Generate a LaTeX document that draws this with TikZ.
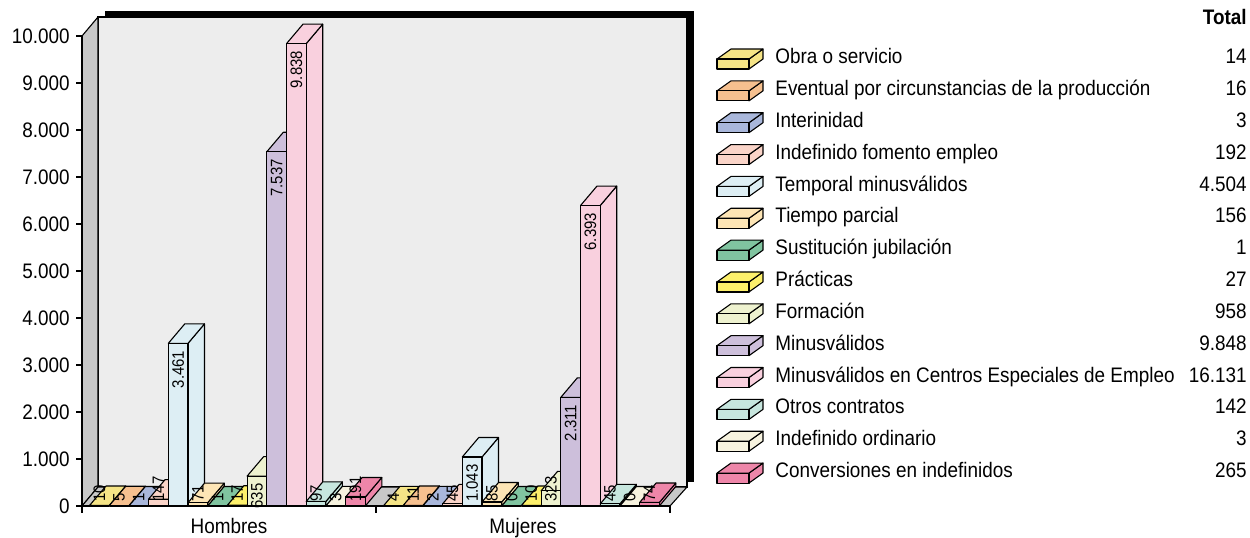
\documentclass[tikz,border=0pt]{standalone}
\usepackage{fontspec}
\setmainfont{Liberation Sans}[FakeStretch=0.9]
\definecolor{col0}{HTML}{F5E486}
\definecolor{col1}{HTML}{F6C08F}
\definecolor{col2}{HTML}{A9B7DB}
\definecolor{col3}{HTML}{FAD4C8}
\definecolor{col4}{HTML}{DDEEF4}
\definecolor{col5}{HTML}{FDE5B5}
\definecolor{col6}{HTML}{80C4A0}
\definecolor{col7}{HTML}{FDF06B}
\definecolor{col8}{HTML}{EEF2CF}
\definecolor{col9}{HTML}{CDBFDB}
\definecolor{col10}{HTML}{F9D0DE}
\definecolor{col11}{HTML}{C7E6DE}
\definecolor{col12}{HTML}{F7F3DF}
\definecolor{col13}{HTML}{EE86A9}
\definecolor{wallgray}{HTML}{C8C8C8}
\definecolor{backwall}{HTML}{EDEDED}
\tikzset{
  barface/.style={draw=black, line width=0.55pt, line join=round},
  barlab/.style={rotate=90, inner sep=0.5pt, font=\fontsize{8.3}{9}\selectfont},
  txt/.style={inner sep=0pt, text height=7.6pt, text depth=0pt, font=\fontsize{10.5}{12}\selectfont},
  axisline/.style={draw=black, line width=0.55pt},
}
\newcommand\mybar[5]{%
  \pgfmathsetmacro\xl{89.5+294*#1+19.7*#2}%
  \pgfmathsetmacro\xr{\xl+19.7}%
  \pgfmathsetmacro\xlb{\xl+16.5}%
  \pgfmathsetmacro\xrb{\xr+16.5}%
  \pgfmathsetmacro\yt{506-0.047*#3}%
  \pgfmathsetmacro\ytb{\yt-19.5}%
  \pgfmathsetmacro\xc{\xl+9.85}%
  \path[barface, fill=col#2] (\xr,506) -- (\xrb,486.5) -- (\xrb,\ytb) -- (\xr,\yt) -- cycle;
  \path[barface, fill=col#2] (\xl,\yt) -- (\xlb,\ytb) -- (\xrb,\ytb) -- (\xr,\yt) -- cycle;
  \path[barface, fill=col#2] (\xl,506) rectangle (\xr,\yt);
  \ifx t#5\relax
    \node[barlab, anchor=east] (lab#1x#2) at (\xc,{\yt+6}) {#4};
  \else
    \node[barlab, anchor=west] (lab#1x#2) at (\xc,503) {#4};
  \fi
}
\begin{document}
\begin{tikzpicture}[x=0.5pt, y=-0.5pt]
\useasboundingbox (0,0) rectangle (1250,537);
% shadow and walls
\fill[black] (105,11) rectangle (694,482);
\path[draw=black, line width=0.55pt, fill=backwall] (98,17) rectangle (687,487);
\path[draw=black, line width=0.55pt, fill=wallgray, line join=round] (82,506) -- (82,36) -- (98,17) -- (98,487) -- cycle;
\path[draw=black, line width=0.55pt, fill=wallgray, line join=round] (82,506) -- (98,487) -- (687,487) -- (670,506) -- cycle;
% y axis
\draw[axisline] (82,36) -- (82,513);
\foreach \i in {0,...,10}{
  \pgfmathsetmacro\yy{506-47*\i}
  \draw[axisline] (76,\yy) -- (82,\yy);
  \node[txt, anchor=east] (yl\i) at (70,\yy) {\ifnum\i=0 0\else\i.000\fi};
}
% x axis
\draw[axisline] (82,506) -- (670,506);
\draw[axisline] (376,506) -- (376,513);
\draw[axisline] (670,506) -- (670,513);
\node[txt] (hom) at (229,526) {Hombres};
\node[txt] (muj) at (523,526) {Mujeres};
% bars Hombres
\mybar{0}{0}{10}{10}{b}
\mybar{0}{1}{5}{5}{b}
\mybar{0}{2}{1}{1}{b}
\mybar{0}{3}{147}{147}{b}
\mybar{0}{4}{3461}{3.461}{t}
\mybar{0}{5}{71}{71}{b}
\mybar{0}{6}{1}{1}{b}
\mybar{0}{7}{17}{17}{b}
\mybar{0}{8}{635}{635}{t}
\mybar{0}{9}{7537}{7.537}{t}
\mybar{0}{10}{9838}{9.838}{t}
\mybar{0}{11}{97}{97}{b}
\mybar{0}{12}{3}{3}{b}
\mybar{0}{13}{191}{191}{b}
% bars Mujeres
\mybar{1}{0}{4}{4}{b}
\mybar{1}{1}{11}{11}{b}
\mybar{1}{2}{2}{2}{b}
\mybar{1}{3}{45}{45}{b}
\mybar{1}{4}{1043}{1.043}{t}
\mybar{1}{5}{85}{85}{b}
\mybar{1}{6}{0}{0}{b}
\mybar{1}{7}{10}{10}{b}
\mybar{1}{8}{323}{323}{b}
\mybar{1}{9}{2311}{2.311}{t}
\mybar{1}{10}{6393}{6.393}{t}
\mybar{1}{11}{45}{45}{b}
\mybar{1}{12}{0}{0}{b}
\mybar{1}{13}{74}{74}{b}
% legend
\node[txt, anchor=east, font=\fontsize{10.5}{12}\selectfont\bfseries] (totalhead) at (1247,17) {Total};
\foreach \i/\name/\tot in {
  0/Obra o servicio/14,
  1/Eventual por circunstancias de la producción/16,
  2/Interinidad/3,
  3/Indefinido fomento empleo/192,
  4/Temporal minusválidos/4.504,
  5/Tiempo parcial/156,
  6/Sustitución jubilación/1,
  7/Prácticas/27,
  8/Formación/958,
  9/Minusválidos/9.848,
  10/Minusválidos en Centros Especiales de Empleo/16.131,
  11/Otros contratos/142,
  12/Indefinido ordinario/3,
  13/Conversiones en indefinidos/265}{
  \pgfmathsetmacro\yc{56+31.85*\i}
  \path[barface, fill=col\i] (749,{\yc+13}) -- (763,{\yc+3}) -- (763,{\yc-7}) -- (749,{\yc+3}) -- cycle;
  \path[barface, fill=col\i] (717,{\yc+3}) -- (731,{\yc-7}) -- (763,{\yc-7}) -- (749,{\yc+3}) -- cycle;
  \path[barface, fill=col\i] (717,{\yc+3}) rectangle (749,{\yc+13});
  \node[txt, anchor=west] (leg\i) at (775,\yc) {\name};
  \node[txt, anchor=east] (tot\i) at (1247,\yc) {\tot};
}
\end{tikzpicture}
\end{document}
